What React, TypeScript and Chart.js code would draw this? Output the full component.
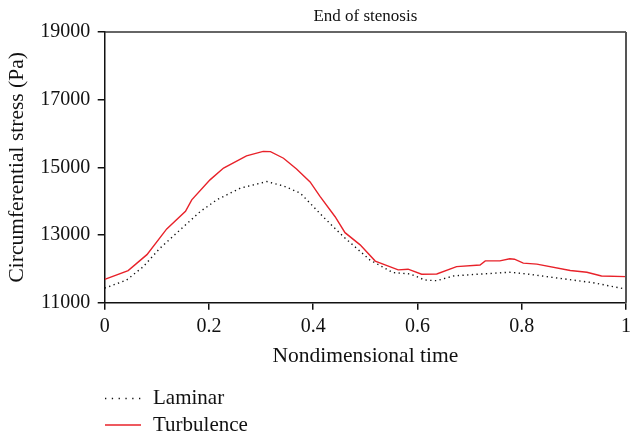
import React, { useEffect, useRef } from "react";
import { Chart, registerables } from "chart.js";

Chart.register(...registerables);

const chartTitle = "End of stenosis";
const xAxisTitle = "Nondimensional time";
const yAxisTitle = "Circumferential stress (Pa)";
const seriesNames = ["Laminar", "Turbulence"];

const xTicks = [0, 0.2, 0.4, 0.6, 0.8, 1];
const yTicks = [11000, 13000, 15000, 17000, 19000];

const timeLaminar = [0, 0.042, 0.074, 0.106, 0.148, 0.183, 0.215, 0.26, 0.311, 0.343, 0.375, 0.394, 0.419, 0.458, 0.509, 0.553, 0.586, 0.614, 0.637, 0.669, 0.714, 0.777, 0.81, 0.873, 0.937, 1.0];
const stressLaminar = [11430, 11670, 12065, 12610, 13200, 13690, 14040, 14385, 14580, 14450, 14240, 13940, 13540, 12950, 12260, 11890, 11850, 11670, 11650, 11790, 11840, 11900, 11850, 11720, 11590, 11400];

const timeTurbulence = [0, 0.045, 0.081, 0.119, 0.155, 0.167, 0.202, 0.228, 0.272, 0.304, 0.318, 0.343, 0.368, 0.394, 0.413, 0.442, 0.461, 0.49, 0.519, 0.563, 0.582, 0.608, 0.637, 0.675, 0.72, 0.73, 0.758, 0.777, 0.786, 0.803, 0.829, 0.893, 0.925, 0.953, 1.0];
const stressTurbulence = [11690, 11950, 12420, 13180, 13700, 14040, 14630, 14980, 15340, 15470, 15465, 15270, 14950, 14570, 14140, 13540, 13070, 12710, 12230, 11970, 11990, 11840, 11850, 12065, 12115, 12235, 12235, 12300, 12285, 12170, 12140, 11950, 11900, 11790, 11770];

const FONT = "'Liberation Serif', 'Times New Roman', serif";

const framePlugin = {
  id: "frame",
  afterDatasetsDraw(chart: any) {
    const { ctx, chartArea } = chart;
    ctx.save();
    ctx.setLineDash([]);
    ctx.strokeStyle = "#333";
    ctx.lineWidth = 1.5;
    ctx.beginPath();
    ctx.moveTo(chartArea.left, chartArea.top);
    ctx.lineTo(chartArea.right, chartArea.top);
    ctx.stroke();
    ctx.strokeStyle = "#555";
    ctx.lineWidth = 2;
    ctx.beginPath();
    ctx.moveTo(chartArea.right, chartArea.top);
    ctx.lineTo(chartArea.right, chartArea.bottom);
    ctx.stroke();
    ctx.restore();
  },
};

const stackedLegendPlugin = {
  id: "stackedLegend",
  afterDraw(chart: any) {
    const { ctx } = chart;
    const rows = [398.5, 425];
    ctx.save();
    chart.data.datasets.forEach((ds: any, i: number) => {
      const y = rows[i];
      ctx.strokeStyle = ds.borderColor;
      ctx.lineWidth = ds.borderWidth;
      ctx.setLineDash(i === 0 ? [1.3, 5.5] : []);
      ctx.beginPath();
      ctx.moveTo(105, y);
      ctx.lineTo(141, y);
      ctx.stroke();
      ctx.setLineDash([]);
      ctx.fillStyle = "#111";
      ctx.font = `21px ${FONT}`;
      ctx.textBaseline = "middle";
      ctx.textAlign = "left";
      ctx.fillText(ds.label, 153, y);
    });
    ctx.restore();
  },
};

export default function App() {
  const ref = useRef<HTMLCanvasElement | null>(null);

  useEffect(() => {
    document.body.style.margin = "0";
    const canvas = ref.current;
    if (!canvas) return;
    const chart = new Chart(canvas, {
      type: "line",
      data: {
        datasets: [
          {
            label: seriesNames[0],
            data: timeLaminar.map((t, i) => ({ x: t, y: stressLaminar[i] })),
            borderColor: "#111",
            borderWidth: 1.4,
            borderDash: [1.3, 3.4],
            pointRadius: 0,
            tension: 0,
            fill: false,
          },
          {
            label: seriesNames[1],
            data: timeTurbulence.map((t, i) => ({ x: t, y: stressTurbulence[i] })),
            borderColor: "#e8222a",
            borderWidth: 1.4,
            pointRadius: 0,
            tension: 0,
            fill: false,
          },
        ],
      },
      options: {
        animation: false,
        responsive: false,
        devicePixelRatio: 1,
        layout: { padding: { top: 0, right: 4, bottom: 67, left: 0 } },
        plugins: {
          legend: { display: false },
          tooltip: { enabled: false },
          title: {
            display: true,
            text: chartTitle,
            fullSize: false,
            color: "#111",
            font: { family: FONT, size: 17, weight: "normal" },
            padding: { top: 6, bottom: 5.6 },
          },
        },
        scales: {
          x: {
            type: "linear",
            min: 0,
            max: 1,
            afterBuildTicks: (s: any) => {
              s.ticks = xTicks.map((v) => ({ value: v }));
            },
            afterFit: (s: any) => {
              s.height = 66.3;
              s.paddingLeft = 0;
              s.paddingRight = 0;
            },
            ticks: {
              callback: (v: any) => String(v),
              color: "#111",
              font: { family: FONT, size: 20 },
              padding: 5.5,
              maxRotation: 0,
            },
            grid: {
              drawOnChartArea: false,
              drawTicks: true,
              tickLength: 7,
              color: "#111",
              lineWidth: 1.5,
            },
            border: { display: true, color: "#111", width: 1.5 },
            title: {
              display: true,
              text: xAxisTitle,
              color: "#111",
              font: { family: FONT, size: 21.5 },
              padding: { top: 0, bottom: 0 },
            },
          },
          y: {
            type: "linear",
            min: 11000,
            max: 19000,
            afterBuildTicks: (s: any) => {
              s.ticks = yTicks.map((v) => ({ value: v }));
            },
            afterFit: (s: any) => {
              s.width = 104.7;
              s.paddingTop = 0;
              s.paddingBottom = 0;
            },
            ticks: {
              callback: (v: any) => String(v),
              color: "#111",
              font: { family: FONT, size: 20 },
              padding: 7.5,
            },
            grid: {
              drawOnChartArea: false,
              drawTicks: true,
              tickLength: 7,
              color: "#111",
              lineWidth: 1.5,
            },
            border: { display: true, color: "#111", width: 1.5 },
            title: {
              display: true,
              text: yAxisTitle,
              color: "#111",
              font: { family: FONT, size: 21.5 },
              padding: { top: 4.6, bottom: 0 },
            },
          },
        },
      },
      plugins: [framePlugin, stackedLegendPlugin],
    } as any);
    return () => chart.destroy();
  }, []);

  return (
    <div style={{ position: "fixed", left: 0, top: 0, width: 630, height: 436, background: "#fff" }}>
      <canvas ref={ref} width={630} height={436} style={{ display: "block" }} />
    </div>
  );
}
